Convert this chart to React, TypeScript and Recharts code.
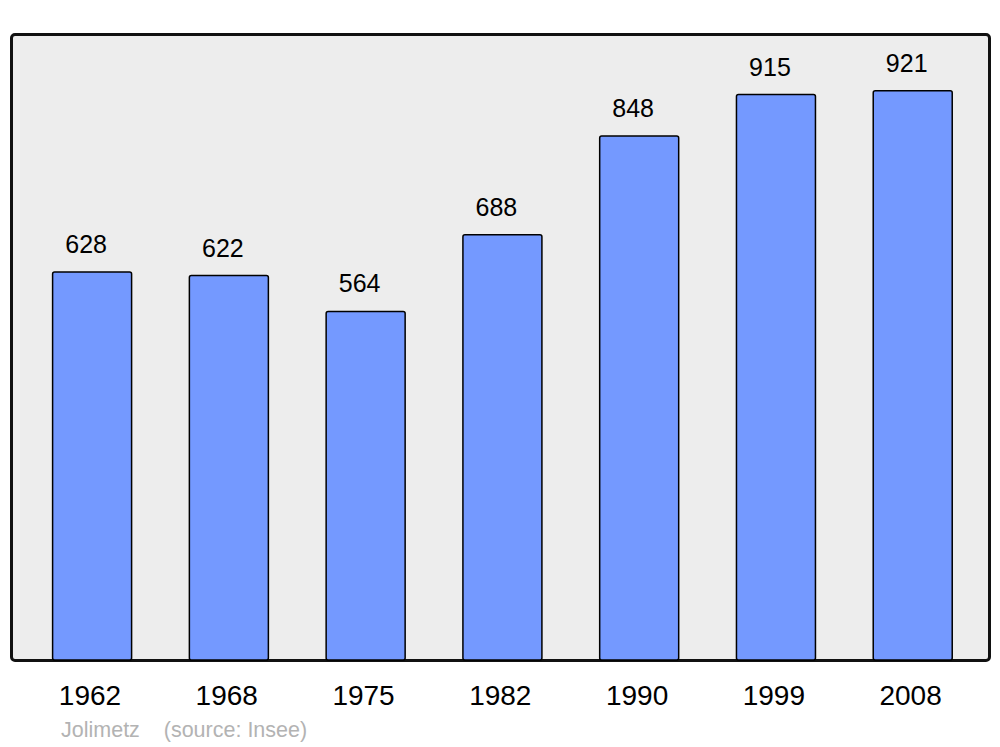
import React from "react";
import { BarChart, Bar, XAxis, YAxis, LabelList } from "recharts";

const years = ["1962", "1968", "1975", "1982", "1990", "1999", "2008"];
const population = [628, 622, 564, 688, 848, 915, 921];

const data = years.map((year, i) => ({ year, value: population[i] }));

const FONT = "'Liberation Sans', Arial, sans-serif";

function YearTick({ x, y, payload }: any) {
  return (
    <text x={x - 2} y={y + 37} textAnchor="middle" fontSize={28} fontFamily={FONT} fill="#000">
      {payload.value}
    </text>
  );
}

function ValueLabel({ x, y, width, value }: any) {
  return (
    <text x={x + width / 2 - 6} y={y - 19} textAnchor="middle" fontSize={25} fontFamily={FONT} fill="#000">
      {value}
    </text>
  );
}

export default function App() {
  return (
    <div style={{ position: "fixed", left: 0, top: 0, width: 1000, height: 747, background: "#fff" }}>
      <div
        style={{
          position: "absolute",
          left: 9.5,
          top: 32.5,
          width: 981,
          height: 629.5,
          boxSizing: "border-box",
          border: "3px solid #111",
          borderRadius: 5,
          background: "#ededed",
        }}
      />
      <div style={{ position: "absolute", left: 0, top: 0 }}>
        <BarChart width={1000} height={747} data={data} margin={{ top: 34, right: 11, bottom: 37, left: 11 }}>
          <XAxis
            dataKey="year"
            height={50}
            axisLine={false}
            tickLine={false}
            tick={<YearTick />}
            interval={0}
            padding={{ left: 12.6, right: 8 }}
          />
          <YAxis hide domain={[0, 1013]} />
          <Bar dataKey="value" fill="#7499ff" stroke="#000" strokeWidth={1.5} barSize={79} radius={2} isAnimationActive={false}>
            <LabelList dataKey="value" content={<ValueLabel />} />
          </Bar>
        </BarChart>
      </div>
      <div
        style={{
          position: "absolute",
          left: 61,
          top: 718,
          fontFamily: FONT,
          fontSize: 21.5,
          color: "#b3b3b3",
          whiteSpace: "pre",
        }}
      >
        {"Jolimetz    (source: Insee)"}
      </div>
    </div>
  );
}
